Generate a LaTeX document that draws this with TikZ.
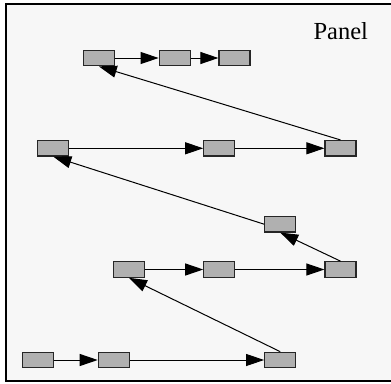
\documentclass[tikz,border=0pt]{standalone}
\usepackage{fontspec}
\setmainfont{Liberation Serif}
\usetikzlibrary{arrows.meta}
\definecolor{panelbg}{RGB}{247,247,247}
\definecolor{boxgray}{RGB}{176,176,176}

\begin{document}
\begin{tikzpicture}[x=1pt,y=-1pt]
\tikzset{box/.style = {shape=rectangle,draw=black!85,fill=boxgray,line width=1.2pt,minimum width=31pt,minimum height=15.5pt,inner sep=0pt}}
\tikzset{edge/.style = {-{Triangle[length=18pt,width=12pt]},line width=1pt}}
\useasboundingbox (0,0) rectangle (391,383);
% panel
\draw[line width=1.5pt,fill=panelbg] (6,4) rectangle (400,381);
\node[anchor=base,font=\fontsize{24.5}{29}\selectfont] (title) at (340.8,39.3) {Panel};

% vertices
\node[box] (a) at (98.8,58) {};
\node[box] (b) at (174.7,58) {};
\node[box] (c) at (234.5,58) {};

\node[box] (d) at (53.3,148.3) {};
\node[box] (e) at (219.3,148.3) {};
\node[box] (f) at (340.5,148.3) {};

\node[box] (g) at (280.2,224.2) {};

\node[box] (h) at (129,269.5) {};
\node[box] (i) at (219.3,269.5) {};
\node[box] (j) at (340.5,269.5) {};

\node[box] (k) at (38.3,360) {};
\node[box] (l) at (113.8,360) {};
\node[box] (m) at (280.2,360) {};

%edges
\draw[edge] (k) to (l);
\draw[edge] (l) to (m);
\draw[edge] (m.north) to (h.south);
\draw[edge] (h) to (i);
\draw[edge] (i) to (j);
\draw[edge] (j.north) to (g.south);
\draw[edge] (g.west) to (d.south);
\draw[edge] (d) to (e);
\draw[edge] (e) to (f);
\draw[edge] (f.north) to (a.south);
\draw[edge] (a) to (b);
\draw[edge] (b) to (c);

\end{tikzpicture}
\end{document}
